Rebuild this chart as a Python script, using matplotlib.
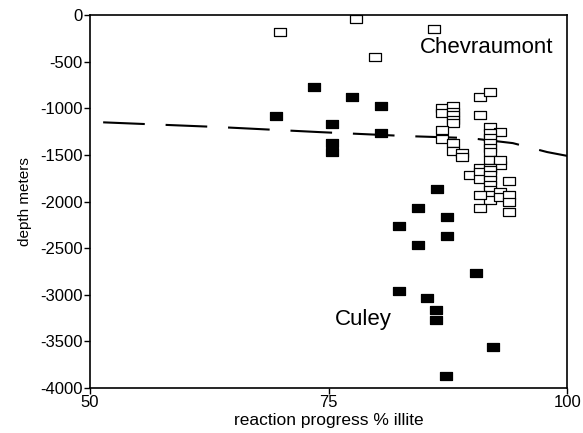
import numpy as np
import matplotlib
matplotlib.use('Agg')
import matplotlib.pyplot as plt
from matplotlib.path import Path

plt.rcParams['font.family'] = ['Liberation Sans', 'DejaVu Sans']
plt.rcParams['axes.unicode_minus'] = False

# Culey (filled squares)
culey_x = [69.5, 73.5, 77.5, 80.5, 75.4, 80.5, 75.4, 75.4, 86.4, 84.4, 87.4,
           82.4, 87.4, 84.4, 90.4, 82.4, 85.3, 86.3, 86.3, 92.2, 87.3]
culey_y = [-1085, -775, -880, -975, -1170, -1265, -1375, -1470, -1865, -2070, -2165,
           -2265, -2370, -2465, -2765, -2960, -3040, -3165, -3270, -3560, -3870]

# Chevraumont (open squares)
chev_x = [69.9, 77.9, 86.0, 79.9,
          90.9, 91.9, 90.9,
          86.9, 86.9, 88.0, 88.0, 88.0, 88.0, 88.0,
          86.9, 86.9, 88.0, 88.0, 89.0, 89.0,
          91.9, 93.0, 91.9, 91.9, 91.9, 91.9, 91.9, 91.9, 93.0, 93.0, 90.9, 91.9,
          89.8, 90.9, 90.9, 91.9, 91.9, 91.9, 91.9, 91.9, 91.9, 91.9,
          93.0, 93.0, 93.9, 93.9, 93.9, 93.9, 90.9, 90.9]
chev_y = [-182, -43, -150, -450,
          -879, -826, -1072,
          -997, -1051, -976, -1040, -1072, -1126, -1158,
          -1233, -1330, -1373, -1458, -1480, -1523,
          -1201, -1255, -1265, -1319, -1373, -1426, -1469, -1555, -1609, -1555, -1641, -1641,
          -1716, -1684, -1759, -1662, -1716, -1769, -1823, -1877, -1930, -1984,
          -1898, -1952, -1780, -1930, -2005, -2113, -1930, -2070]

# dashed trend curve
trend_x = [51.4, 63.6, 74.1, 83.3, 89.8, 94.3, 97.9, 100.0]
trend_y = [-1150, -1201, -1255, -1298, -1319, -1373, -1469, -1510]

rect = Path([(-1, -0.72), (1, -0.72), (1, 0.72), (-1, 0.72), (-1, -0.72)],
            [Path.MOVETO, Path.LINETO, Path.LINETO, Path.LINETO, Path.CLOSEPOLY])

fig = plt.figure(figsize=(5.83, 4.33), dpi=100)
ax = fig.add_axes([0.154, 0.104, 0.819, 0.861])

ax.plot(trend_x, trend_y, color='black', lw=1.5, dashes=(20, 10), zorder=1)
ax.plot(chev_x, chev_y, ls='none', marker=rect, markersize=8, mfc='white',
        mec='black', mew=0.9, zorder=2)
ax.plot(culey_x, culey_y, ls='none', marker=rect, markersize=8, mfc='black',
        mec='black', mew=0.9, zorder=3)

ax.text(84.6, -343, 'Chevraumont', fontsize=16, va='center', ha='left')
ax.text(75.7, -3270, 'Culey', fontsize=16, va='center', ha='left')

ax.set_xlim(50, 100)
ax.set_ylim(-4000, 0)
ax.set_xticks([50, 75, 100])
ax.set_yticks(np.arange(-4000, 1, 500))
ax.tick_params(direction='out', length=4, width=1, labelsize=12, pad=1)
for s in ax.spines.values():
    s.set_linewidth(1.2)

ax.set_xlabel('reaction progress % illite', fontsize=12.5, labelpad=2)
ax.set_ylabel('depth meters', fontsize=11, labelpad=6)

fig.savefig('out.png', dpi=100)
